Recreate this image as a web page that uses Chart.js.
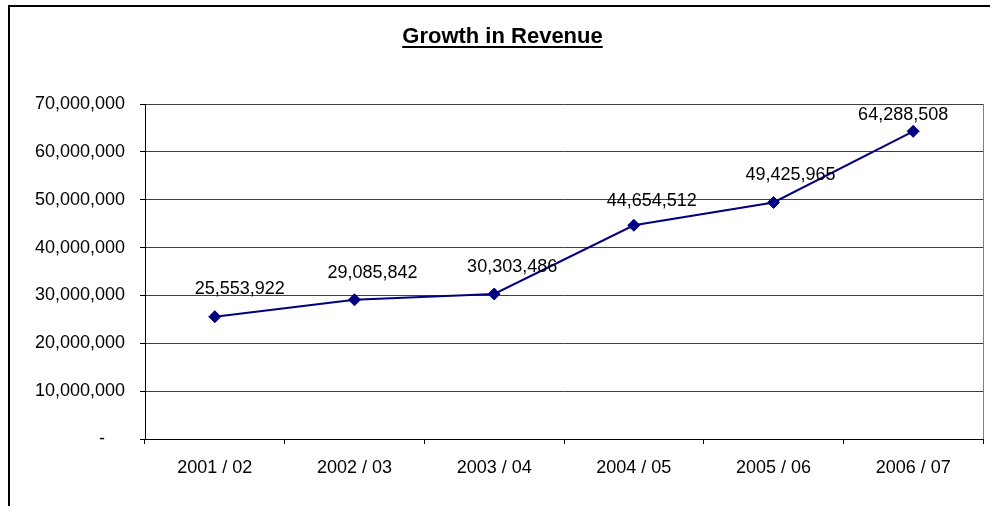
<!DOCTYPE html>
<html>
<head>
<meta charset="utf-8">
<title>Growth in Revenue</title>
<script src="https://cdn.jsdelivr.net/npm/chart.js@4/dist/chart.umd.min.js"></script>
<style>
  html, body { margin: 0; padding: 0; background: #fff; }
  canvas { display: block; }
</style>
</head>
<body>
<canvas id="revenueChart" width="990" height="506"></canvas>
<script>
// Revenue per financial year
const years = ['2001 / 02', '2002 / 03', '2003 / 04', '2004 / 05', '2005 / 06', '2006 / 07'];
const revenue = [25553922, 29085842, 30303486, 44654512, 49425965, 64288508];
const yTicks = [0, 10000000, 20000000, 30000000, 40000000, 50000000, 60000000, 70000000];

const FONT = "'Liberation Sans', Arial, sans-serif";
const NAVY = '#000080';

// nudges for the value labels (relative to the point)
const labelDx = [25, 18, 18, 18, 17, -10];
const labelDy = [-28, -27, -27, -24, -27, -16];

function fmt(v) {
    return v.toLocaleString('en-US');
}

// Frame, title and value labels
const decorations = {
    id: 'decorations',
    beforeDraw(chart) {
        const ctx = chart.ctx;
        ctx.save();
        ctx.fillStyle = '#fff';
        ctx.fillRect(0, 0, chart.width, chart.height);
        // outer frame
        ctx.strokeStyle = '#000';
        ctx.lineWidth = 2;
        ctx.strokeRect(9, 6, 1100, 700);
        ctx.restore();
    },
    afterDraw(chart) {
        const ctx = chart.ctx;
        const area = chart.chartArea;
        ctx.save();
        // right edge of plot area
        ctx.strokeStyle = '#808080';
        ctx.lineWidth = 1;
        ctx.beginPath();
        ctx.moveTo(Math.round(area.right) + 0.5, area.top);
        ctx.lineTo(Math.round(area.right) + 0.5, area.bottom);
        ctx.stroke();

        // title
        const title = 'Growth in Revenue';
        ctx.font = 'bold 22px ' + FONT;
        ctx.fillStyle = '#000';
        ctx.textAlign = 'center';
        ctx.textBaseline = 'alphabetic';
        const tx = 502.5;
        ctx.fillText(title, tx, 43);
        const w = ctx.measureText(title).width;
        ctx.strokeStyle = '#000';
        ctx.lineWidth = 2;
        ctx.beginPath();
        ctx.moveTo(tx - w / 2, 47);
        ctx.lineTo(tx + w / 2, 47);
        ctx.stroke();
        ctx.restore();
    },
    afterDatasetsDraw(chart) {
        const ctx = chart.ctx;
        const meta = chart.getDatasetMeta(0);
        ctx.save();
        ctx.font = '18px ' + FONT;
        ctx.fillStyle = '#000';
        ctx.textAlign = 'center';
        ctx.textBaseline = 'middle';
        meta.data.forEach((pt, i) => {
            ctx.fillText(fmt(revenue[i]), pt.x + labelDx[i], pt.y + labelDy[i]);
        });
        ctx.restore();
    }
};

const ctx = document.getElementById('revenueChart');
new Chart(ctx, {
    type: 'line',
    data: {
        labels: years,
        datasets: [{
            data: revenue,
            borderColor: NAVY,
            backgroundColor: NAVY,
            borderWidth: 2,
            pointStyle: 'rectRot',
            pointRadius: 6,
            pointBorderWidth: 1,
            pointBackgroundColor: NAVY,
            pointBorderColor: NAVY,
            tension: 0,
            fill: false
        }]
    },
    options: {
        responsive: false,
        animation: false,
        events: [],
        layout: {
            padding: { top: 104, right: 7, bottom: 0, left: 0 }
        },
        plugins: {
            legend: { display: false },
            title: { display: false },
            tooltip: { enabled: false }
        },
        scales: {
            x: {
                type: 'category',
                offset: true,
                afterFit(scale) { scale.height = 67; },
                grid: {
                    offset: true,
                    drawOnChartArea: false,
                    drawTicks: true,
                    tickLength: 5,
                    color: '#000'
                },
                border: { display: true, color: '#000', width: 1 },
                ticks: {
                    color: '#000',
                    font: { family: FONT, size: 18 },
                    padding: 13,
                    maxRotation: 0,
                    autoSkip: false
                }
            },
            y: {
                min: 0,
                max: 70000000,
                afterFit(scale) { scale.width = 145; },
                afterBuildTicks(scale) {
                    scale.ticks = yTicks.map(v => ({ value: v }));
                },
                grid: {
                    color: '#404040',
                    lineWidth: 1,
                    drawTicks: true,
                    tickLength: 5,
                    tickColor: '#000'
                },
                border: { display: true, color: '#000', width: 1 },
                ticks: {
                    color: '#000',
                    font: { family: FONT, size: 18 },
                    padding: 15,
                    callback: v => v === 0 ? '-    ' : fmt(v)
                }
            }
        }
    },
    plugins: [decorations]
});
</script>
</body>
</html>
